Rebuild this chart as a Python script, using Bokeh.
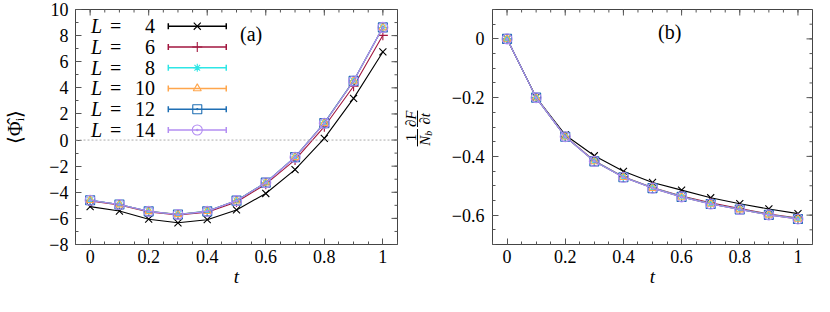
import math
from bokeh.plotting import figure
from bokeh.layouts import row
from bokeh.models import Range1d, FixedTicker, Span
from bokeh.core.properties import value
from bokeh.embed import file_html
from bokeh.resources import INLINE

# ---------------- data ----------------
t = [0.0, 0.1, 0.2, 0.3, 0.4, 0.5, 0.6, 0.7, 0.8, 0.9, 1.0]
L_sizes = [4, 6, 8, 10, 12, 14]

phi_L4 = [-5.10, -5.44, -6.06, -6.34, -6.10, -5.35, -4.09, -2.26, 0.13, 3.19, 6.75]
phi_L6 = [-4.66, -4.98, -5.50, -5.74, -5.52, -4.74, -3.38, -1.52, 1.02, 4.12, 8.02]
phi_L8 = [-4.60, -4.93, -5.45, -5.68, -5.44, -4.63, -3.25, -1.30, 1.32, 4.55, 8.62]
phi_L10 = [-4.61, -4.94, -5.46, -5.69, -5.45, -4.64, -3.26, -1.31, 1.30, 4.53, 8.62]
phi_L12 = [-4.61, -4.94, -5.46, -5.70, -5.46, -4.64, -3.26, -1.31, 1.30, 4.53, 8.63]
phi_L14 = [-4.61, -4.94, -5.46, -5.70, -5.46, -4.64, -3.27, -1.32, 1.29, 4.52, 8.63]

dF_L4 = [0.0, -0.199, -0.327, -0.398, -0.451, -0.489, -0.515, -0.541, -0.561, -0.579, -0.595]
dF_L6 = [0.0, -0.200, -0.332, -0.415, -0.469, -0.506, -0.535, -0.558, -0.578, -0.596, -0.610]
dF_L8 = [0.0, -0.200, -0.333, -0.416, -0.470, -0.507, -0.537, -0.561, -0.580, -0.598, -0.612]
dF_L10 = [0.0, -0.200, -0.333, -0.417, -0.471, -0.508, -0.538, -0.562, -0.581, -0.599, -0.613]
dF_L12 = [0.0, -0.200, -0.333, -0.417, -0.471, -0.508, -0.538, -0.562, -0.581, -0.599, -0.613]
dF_L14 = [0.0, -0.200, -0.333, -0.417, -0.471, -0.508, -0.538, -0.562, -0.581, -0.599, -0.613]

x_ticks = [0.0, 0.2, 0.4, 0.6, 0.8, 1.0]
x_tick_labels = ["0", "0.2", "0.4", "0.6", "0.8", "1"]
ya_ticks = [-8, -6, -4, -2, 0, 2, 4, 6, 8, 10]
ya_tick_labels = ["−8", "−6", "−4", "−2", "0", "2", "4", "6", "8", "10"]
yb_ticks = [-0.6, -0.4, -0.2, 0.0]
yb_tick_labels = ["−0.6", "−0.4", "−0.2", "0"]

# ---------------- styles ----------------
colors = ["#000000", "#a2163f", "#2ee6e6", "#ffa64d", "#1f6fb4", "#b38ef2"]
markers = ["x", "cross", "asterisk", "triangle", "square_dot", "circle_dot"]
msizes = [10, 10, 8, 8, 9, 10]
SERIF = "Liberation Serif"
TICK_FS = "18px"
LAB_FS = "19px"
TXT = "#000000"
TICKC = "#555555"
FIG_H = 296
MB_TOP, MB_BOT = 9, 52

phi_series = [phi_L4, phi_L6, phi_L8, phi_L10, phi_L12, phi_L14]
dF_series = [dF_L4, dF_L6, dF_L8, dF_L10, dF_L12, dF_L14]

x_minor = [round(-0.05 + 0.05 * i, 2) for i in range(23)]


def style_axis(ax, ticks, labels, minor, standoff):
    ax.ticker = FixedTicker(ticks=ticks, minor_ticks=minor)
    ax.major_label_overrides = {tk: lb for tk, lb in zip(ticks, labels)}
    ax.axis_line_color = None
    ax.major_tick_in = 6
    ax.major_tick_out = 0
    ax.minor_tick_in = 3
    ax.minor_tick_out = 0
    ax.major_tick_line_color = TICKC
    ax.minor_tick_line_color = TICKC
    ax.major_label_text_font = SERIF
    ax.major_label_text_font_size = TICK_FS
    ax.major_label_text_color = TXT
    ax.major_label_standoff = standoff


def mirror_ticks(p, xticks, xminor, yticks, yminor, xtop, yright):
    # inward ticks on top and right edges: half of each dash is clipped by the frame
    p.scatter(xticks, [xtop] * len(xticks), marker="dash", angle=math.pi / 2, size=12,
              line_color=TICKC, line_width=1)
    p.scatter(xminor, [xtop] * len(xminor), marker="dash", angle=math.pi / 2, size=6,
              line_color=TICKC, line_width=1)
    p.scatter([yright] * len(yticks), yticks, marker="dash", size=12,
              line_color=TICKC, line_width=1)
    p.scatter([yright] * len(yminor), yminor, marker="dash", size=6,
              line_color=TICKC, line_width=1)


def make_fig(width, mbl, mbr, yrange):
    p = figure(width=width, height=FIG_H, output_backend="svg", toolbar_location=None,
               x_range=Range1d(-0.05, 1.05), y_range=yrange,
               min_border_left=mbl, min_border_right=mbr,
               min_border_top=MB_TOP, min_border_bottom=MB_BOT)
    p.grid.visible = False
    p.outline_line_color = "#444444"
    p.outline_line_width = 1
    p.background_fill_color = "white"
    p.border_fill_color = "white"
    p.xaxis[0].axis_label = "t"
    p.xaxis[0].axis_label_text_font = SERIF
    p.xaxis[0].axis_label_text_font_size = LAB_FS
    p.xaxis[0].axis_label_text_font_style = "italic"
    p.xaxis[0].axis_label_text_color = TXT
    p.xaxis[0].axis_label_standoff = 0
    return p


# ================= panel (a) =================
ya_minor = list(range(-8, 11))
pa = make_fig(400, 75, 3, Range1d(-8, 10))
style_axis(pa.xaxis[0], x_ticks, x_tick_labels, x_minor, 5)
style_axis(pa.yaxis[0], ya_ticks, ya_tick_labels, ya_minor, 7)
pa.yaxis[0].axis_label = "⟨Φ̂ᵢ⟩"
pa.yaxis[0].axis_label_text_font = SERIF
pa.yaxis[0].axis_label_text_font_size = "20px"
pa.yaxis[0].axis_label_text_font_style = "normal"
pa.yaxis[0].axis_label_text_color = TXT
pa.yaxis[0].axis_label_standoff = 20
mirror_ticks(pa, x_ticks, x_minor, ya_ticks, ya_minor, 10, 1.05)

pa.add_layout(Span(location=0, dimension="width", line_color="#aaaaaa", line_dash="2 2", line_width=1))

for ys, c, m, s in zip(phi_series, colors, markers, msizes):
    pa.line(t, ys, line_color=c, line_width=1.1)
    pa.scatter(t, ys, marker=m, size=s, line_color=c, fill_color=None, line_width=1.1)

leg_y0, leg_dy = 8.72, -1.59
leg_x_L, leg_x_eq, leg_x_num = 0.003, 0.087, 0.222
leg_x0, leg_x1 = 0.267, 0.465
for i, (Lv, c, m, s) in enumerate(zip(L_sizes, colors, markers, msizes)):
    yy = leg_y0 + i * leg_dy
    pa.text([leg_x_L], [yy], text=["L"], text_font=value(SERIF), text_font_style="italic",
            text_font_size="20px", text_align="left", text_baseline="middle", text_color=TXT)
    pa.text([leg_x_eq], [yy], text=["="], text_font=value(SERIF),
            text_font_size="20px", text_align="center", text_baseline="middle", text_color=TXT)
    pa.text([leg_x_num], [yy], text=[str(Lv)], text_font=value(SERIF),
            text_font_size="20px", text_align="right", text_baseline="middle", text_color=TXT)
    pa.segment([leg_x0], [yy], [leg_x1], [yy], line_color=c, line_width=1.5)
    pa.scatter([leg_x0, leg_x1], [yy, yy], marker="dash", angle=math.pi / 2, size=6,
               line_color=c, line_width=1.5)
    pa.scatter([(leg_x0 + leg_x1) / 2], [yy], marker=m, size=s, line_color=c,
               fill_color=None, line_width=1.1)

pa.text([0.55], [8.14], text=["(a)"], text_font=value(SERIF), text_font_size="20px",
        text_align="center", text_baseline="middle", text_color=TXT)

# ================= y-label of panel (b): small axis-less figure, same vertical range =================
PC_W = 34
yb_range = Range1d(-0.7, 0.1)
pc = figure(width=PC_W, height=FIG_H, output_backend="svg", toolbar_location=None,
            x_axis_type=None, y_axis_type=None,
            x_range=Range1d(0, PC_W), y_range=yb_range,
            min_border_left=0, min_border_right=0,
            min_border_top=MB_TOP, min_border_bottom=MB_BOT)
pc.grid.visible = False
pc.outline_line_color = None


def ftext(x, y, txt, size="15px", style="normal"):
    pc.text([x], [y], text=[txt], angle=math.pi / 2, text_font=value(SERIF),
            text_font_size=size, text_font_style=style, text_align="center",
            text_baseline="middle", text_color=TXT)


ftext(10, -0.336, "1")
ftext(10, -0.272, "∂F", style="italic")
ftext(24, -0.347, "N", style="italic")
ftext(28, -0.321, "b", size="10px", style="italic")
ftext(24, -0.272, "∂t", style="italic")
pc.segment([17, 17], [-0.366, -0.300], [17, 17], [-0.307, -0.244], line_color="black", line_width=1)

# ================= panel (b) =================
yb_minor = [round(-0.7 + 0.05 * i, 2) for i in range(17)]
pb = make_fig(814 - 400 - PC_W, 58, 2, yb_range)
style_axis(pb.xaxis[0], x_ticks, x_tick_labels, x_minor, 5)
style_axis(pb.yaxis[0], yb_ticks, yb_tick_labels, yb_minor, 8)
mirror_ticks(pb, x_ticks, x_minor, yb_ticks, yb_minor, 0.1, 1.05)

for ys, c, m, s in zip(dF_series, colors, markers, msizes):
    pb.line(t, ys, line_color=c, line_width=1.1)
    pb.scatter(t, ys, marker=m, size=s, line_color=c, fill_color=None, line_width=1.1)

pb.text([0.559], [0.0246], text=["(b)"], text_font=value(SERIF), text_font_size="20px",
        text_align="center", text_baseline="middle", text_color=TXT)

layout = row(pa, pc, pb, spacing=0)
open("out.html", "w").write(file_html(layout, INLINE))
